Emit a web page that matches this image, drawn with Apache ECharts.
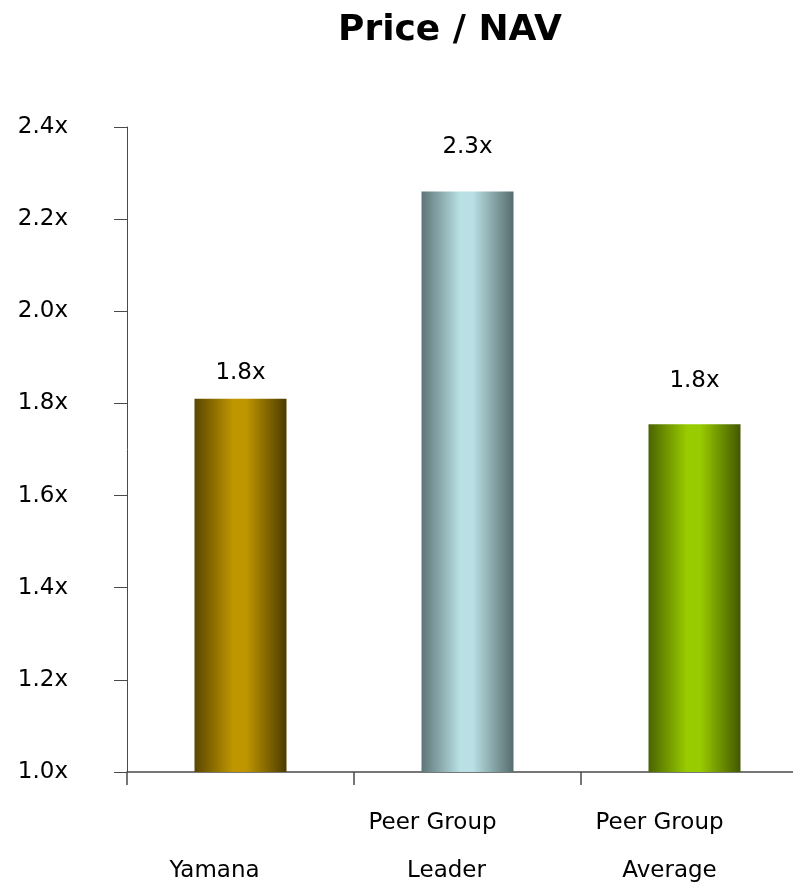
<!DOCTYPE html>
<html>
<head>
<meta charset="utf-8">
<script src="https://cdn.jsdelivr.net/npm/echarts@6/dist/echarts.min.js"></script>
<style>
  html, body { margin: 0; padding: 0; background: #fff; overflow: hidden; }
  #chart { width: 793px; height: 887px; }
</style>
</head>
<body>
<div id="chart"></div>
<script>
// Price / NAV multiples
const categories = ['\nYamana', 'Peer Group\nLeader', 'Peer Group\nAverage'];
const priceToNav = [1.81, 2.26, 1.755];
const yTicks = [1.0, 1.2, 1.4, 1.6, 1.8, 2.0, 2.2, 2.4];

// Cylinder-style shading: [left edge, highlight, right edge]
const barShades = [
  ['#5a4600', '#bf9600', '#4d3b00'],
  ['#5d7577', '#b9e0e4', '#566c6e'],
  ['#4a6400', '#99cc00', '#425800']
];
const labelGaps = [14, 33, 32];
// Extra right padding per label line, nudging each line left of the band centre
const linePads = [[0, 52], [70, 42], [70, 50]];

function shade(c) {
  return new echarts.graphic.LinearGradient(0, 0, 1, 0, [
    { offset: 0, color: c[0] },
    { offset: 0.42, color: c[1] },
    { offset: 0.56, color: c[1] },
    { offset: 1, color: c[2] }
  ]);
}

const FONT = '"DejaVu Sans", sans-serif';
const SIZE = 23;
const AXIS = '#4a4a4a';
const chart = echarts.init(document.getElementById('chart'));
chart.setOption({
  animation: false,
  title: {
    text: 'Price / NAV',
    left: 333,
    top: 8,
    textStyle: { fontFamily: FONT, fontSize: 36, fontWeight: 'bold', color: '#000' }
  },
  grid: {
    left: 127, top: 127, width: 681, height: 645,
    containLabel: false,
    outerBoundsMode: 'none'
  },
  xAxis: {
    type: 'category',
    data: categories,
    boundaryGap: true,
    axisLine: { show: true, lineStyle: { color: AXIS, width: 1.5 } },
    axisTick: { show: true, interval: 0, alignWithLabel: false, length: 13, lineStyle: { color: AXIS, width: 1.5 } },
    axisLabel: {
      interval: 0,
      hideOverlap: false,
      margin: 27,
      formatter: (val, idx) => {
        const lines = val.split('\n');
        return lines.map((s, k) => s ? '{l' + k + 'p' + linePads[idx][k] + '|' + s + '}' : '').join('\n');
      },
      rich: (() => {
        const r = {};
        linePads.forEach(p => p.forEach((pad, k) => {
          r['l' + k + 'p' + pad] = {
            fontFamily: FONT, fontSize: SIZE, color: '#000', lineHeight: 48,
            padding: [0, pad, 0, 0]
          };
        }));
        return r;
      })(),
      fontFamily: FONT,
      fontSize: SIZE,
      color: '#000',
      lineHeight: 48
    }
  },
  yAxis: {
    type: 'value',
    min: yTicks[0],
    max: yTicks[yTicks.length - 1],
    interval: 0.2,
    splitLine: { show: false },
    axisLine: { show: true, lineStyle: { color: AXIS, width: 1 } },
    axisTick: { show: true, inside: false, length: 13, lineStyle: { color: AXIS } },
    axisLabel: {
      margin: 59,
      fontFamily: FONT,
      fontSize: SIZE,
      color: '#000',
      formatter: v => v.toFixed(1) + 'x'
    }
  },
  series: [{
    type: 'bar',
    barWidth: 92,
    data: priceToNav.map((v, i) => ({
      value: v,
      itemStyle: { color: shade(barShades[i]) },
      label: { distance: labelGaps[i] }
    })),
    label: {
      show: true,
      position: 'top',
      fontFamily: FONT,
      fontSize: SIZE,
      color: '#000',
      formatter: p => p.value.toFixed(1) + 'x'
    }
  }]
});
</script>
</body>
</html>
